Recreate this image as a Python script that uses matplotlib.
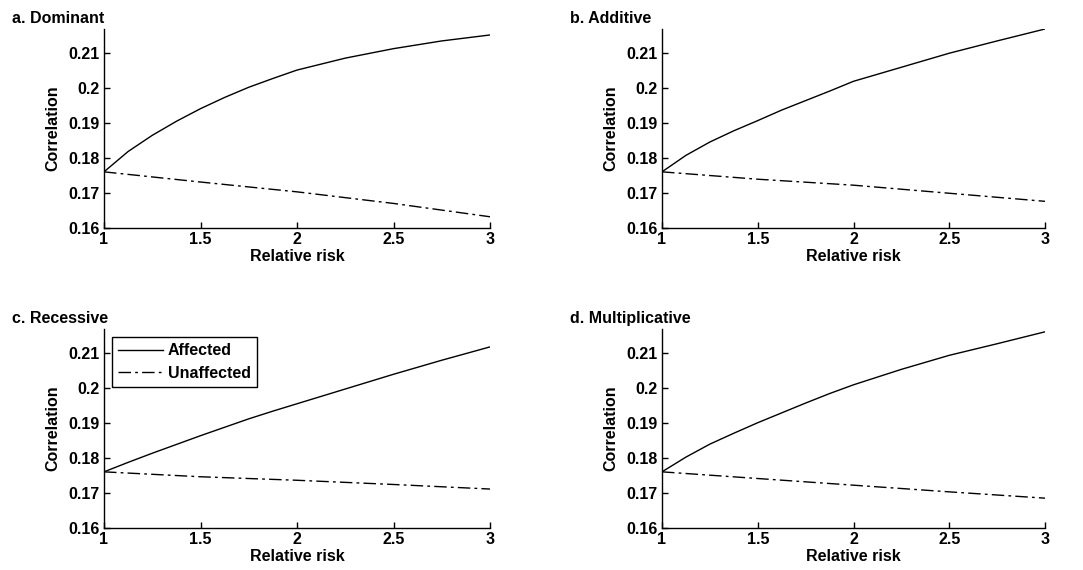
import matplotlib
matplotlib.use("Agg")
import matplotlib.pyplot as plt

plt.rcParams["font.family"] = ["Liberation Sans"]
plt.rcParams["font.weight"] = "bold"
plt.rcParams["axes.labelweight"] = "bold"
plt.rcParams["font.size"] = 11.5

# values
rr = [1, 1.125, 1.25, 1.375, 1.5, 1.625, 1.75, 1.875, 2, 2.25, 2.5, 2.75, 3]
rr_u = [1, 1.5, 2, 2.5, 3]

dom_aff = [0.176, 0.1818, 0.1864, 0.1904, 0.1940, 0.1972, 0.2001, 0.2026,
           0.2050, 0.2084, 0.2111, 0.2133, 0.2150]
dom_unaff = [0.176, 0.1731, 0.1703, 0.1670, 0.1632]
add_aff = [0.176, 0.1807, 0.1845, 0.1877, 0.1906, 0.1936, 0.1963, 0.1990,
           0.2018, 0.2058, 0.2098, 0.2133, 0.2167]
add_unaff = [0.176, 0.1739, 0.1722, 0.1699, 0.1676]
rec_aff = [0.176, 0.1787, 0.1813, 0.1838, 0.1863, 0.1887, 0.1911, 0.1933,
           0.1954, 0.1996, 0.2038, 0.2078, 0.2116]
rec_unaff = [0.176, 0.1746, 0.1736, 0.1724, 0.1711]
mul_aff = [0.176, 0.1802, 0.1839, 0.1870, 0.1900, 0.1928, 0.1956, 0.1983,
           0.2008, 0.2052, 0.2092, 0.2125, 0.2159]
mul_unaff = [0.176, 0.1741, 0.1722, 0.1703, 0.1685]

titles = ["a. Dominant", "b. Additive", "c. Recessive", "d. Multiplicative"]
affected = [dom_aff, add_aff, rec_aff, mul_aff]
unaffected = [dom_unaff, add_unaff, rec_unaff, mul_unaff]

xticks = [1, 1.5, 2, 2.5, 3]
xlabels = ["1", "1.5", "2", "2.5", "3"]
yticks = [0.16, 0.17, 0.18, 0.19, 0.2, 0.21]
ylabels = ["0.16", "0.17", "0.18", "0.19", "0.2", "0.21"]

W, H = 1083, 570
fig = plt.figure(figsize=(W / 100, H / 100), dpi=100)

# axes boxes in pixels: left, top, right, bottom
boxes = [(104, 29, 490, 228), (662, 29, 1045, 228),
         (104, 329, 490, 528), (662, 329, 1045, 528)]
title_pos = [(12, 23), (570, 23), (12, 323), (570, 323)]

for i in range(4):
    l, t, r, b = boxes[i]
    ax = fig.add_axes([l / W, 1 - b / H, (r - l) / W, (b - t) / H])
    ax.plot(rr, affected[i], color="black", lw=1, label="Affected")
    ax.plot(rr_u, unaffected[i], color="black", lw=1, dashes=(9, 3, 2, 3),
            label="Unaffected")
    ax.set_xlim(1, 3)
    ax.set_ylim(0.16, 0.2167)
    ax.set_xticks(xticks)
    ax.set_xticklabels(xlabels)
    ax.set_yticks(yticks)
    ax.set_yticklabels(ylabels)
    ax.tick_params(direction="in", length=4, width=1, pad=3)
    for s in ["top", "right"]:
        ax.spines[s].set_visible(False)
    for s in ["left", "bottom"]:
        ax.spines[s].set_linewidth(1)
    ax.set_xlabel("Relative risk", labelpad=1)
    ax.set_ylabel("Correlation", labelpad=6)
    tx, ty = title_pos[i]
    fig.text(tx / W, 1 - ty / H, titles[i], fontweight="bold", va="baseline")
    if i == 2:
        leg = ax.legend(loc="upper left", bbox_to_anchor=(0.021, 0.96),
                        borderaxespad=0, fancybox=False, framealpha=1,
                        edgecolor="black", handlelength=2.8, borderpad=0.4,
                        labelspacing=0.45, handletextpad=0.3)
        leg.get_frame().set_linewidth(1)

fig.savefig("out.png", dpi=100)
